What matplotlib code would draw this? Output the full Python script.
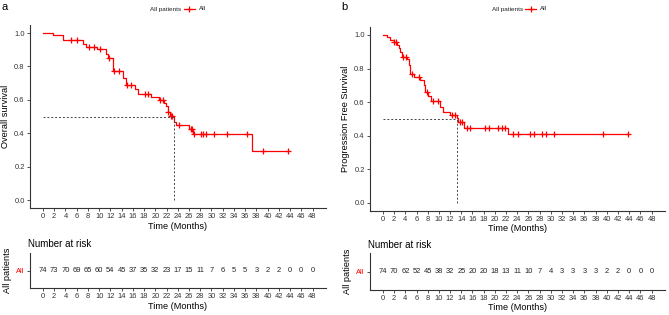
import matplotlib
matplotlib.use('Agg')
import matplotlib.pyplot as plt
from matplotlib.lines import Line2D
import numpy as np

plt.rcParams['font.family'] = ['Liberation Sans', 'DejaVu Sans']

# Kaplan-Meier steps (time in months, survival after the drop)
os_time = [1.8, 3.55, 7.1, 7.7, 9.6, 11.3, 11.5, 12.4, 14.2, 14.7, 16.3, 16.9, 19.3, 20.6,
           21.6, 21.9, 22.2, 22.6, 23.3, 23.6, 26.0, 26.8, 37.2]
os_surv = [0.986, 0.959, 0.932, 0.918, 0.904, 0.877, 0.849, 0.77, 0.73, 0.69, 0.662, 0.634,
           0.62, 0.60, 0.58, 0.565, 0.53, 0.505, 0.47, 0.45, 0.425, 0.393, 0.295]
os_cens = [5.0, 6.0, 8.2, 9.0, 10.1, 11.7, 12.7, 13.6, 15.0, 15.6, 18.1, 18.7, 20.8, 21.4,
           22.3, 22.8, 23.0, 24.3, 26.3, 26.6, 26.9, 28.1, 28.5, 29.1, 30.5, 32.8, 36.4, 39.1, 43.6]
os_median = 23.4
os_risk = [74, 73, 70, 69, 65, 60, 54, 45, 37, 35, 32, 23, 17, 15, 11, 7, 6, 5, 5, 3, 2, 2, 0, 0, 0]

pfs_time = [0.7, 1.3, 1.9, 2.5, 2.8, 3.1, 3.4, 4.3, 4.6, 4.9, 5.6, 6.7, 7.3, 7.6, 8.1, 8.6,
            10.2, 10.8, 12.0, 13.2, 13.5, 14.4, 22.4]
pfs_surv = [0.986, 0.973, 0.959, 0.94, 0.92, 0.90, 0.87, 0.855, 0.82, 0.77, 0.75, 0.733, 0.70,
            0.66, 0.634, 0.604, 0.572, 0.543, 0.523, 0.503, 0.483, 0.444, 0.41]
pfs_cens = [1.9, 2.3, 3.6, 4.1, 5.2, 6.4, 7.9, 9.0, 9.9, 12.3, 12.9, 13.8, 14.1, 15.0, 15.6,
            18.3, 18.9, 20.6, 21.2, 21.8, 23.2, 24.2, 26.3, 27.0, 28.4, 29.1, 30.6, 39.3, 43.8]
pfs_median = 13.3
pfs_risk = [74, 70, 62, 52, 45, 38, 32, 25, 20, 20, 18, 13, 11, 10, 7, 4, 3, 3, 3, 3, 2, 2, 0, 0, 0]

risk_times = list(range(0, 49, 2))

W, H = 669, 315
fig = plt.figure(figsize=(W/100, H/100), dpi=100)

def ax_at(x0, y0, x1, y1):
    return fig.add_axes([x0/W, 1-y1/H, (x1-x0)/W, (y1-y0)/H])

def style(ax):
    for s in ['top', 'right']:
        ax.spines[s].set_visible(False)
    for s in ['left', 'bottom']:
        ax.spines[s].set_color('#333333')
        ax.spines[s].set_linewidth(0.8)
    ax.tick_params(length=2, width=0.6, color='#333333', labelsize=5.4, pad=1.5, labelcolor='#333333')
    ax.set_xlim(-2.4, 50.4)
    ax.set_xticks(risk_times)

def km_panel(x0, y0, x1, y1, ry0, ry1, times, survs, cens, med, risk, ylab, letter, lx, legx):
    ax = ax_at(x0, y0, x1, y1)
    style(ax)
    t = np.array([0] + times + [cens[-1]])
    s = np.array([1.0] + survs + [survs[-1]])
    ax.step(t, s, where='post', color='red', lw=0.9)
    # survival at censor times from the step function
    idx = np.searchsorted(t, cens, side='right') - 1
    ax.plot(cens, s[idx], ls='none', marker='+', ms=4.5, mew=0.9, color='red')
    ax.plot([0, med], [0.5, 0.5], ls=(0, (2, 2)), color='#444444', lw=0.7)
    ax.plot([med, med], [0, 0.5], ls=(0, (2, 2)), color='#444444', lw=0.7)
    ax.set_ylim(-0.05, 1.05)
    ax.set_yticks(np.arange(0, 1.01, 0.2))
    ax.set_yticklabels(['%.1f' % v for v in np.arange(0, 1.01, 0.2)])
    ax.set_xlabel('Time (Months)', fontsize=6.6, labelpad=1)
    ax.set_ylabel(ylab, fontsize=6.6, labelpad=3)

    # legend row: "All patients  -+-  All"
    fig.text(legx/W, 1-9/H, 'All patients', fontsize=4.6, ha='left', va='center', color='#222222')
    fig.add_artist(Line2D([(legx+33)/W, (legx+44)/W], [1-9/H, 1-9/H], color='red', lw=0.9))
    fig.add_artist(Line2D([(legx+38.5)/W], [1-9/H], color='red', marker='+', ms=4.5, mew=0.9))
    fig.text((legx+48)/W, 1-9/H, 'All', fontsize=4.6, ha='left', va='center', color='#222222')
    fig.text(lx/W, 1-7/H, letter, fontsize=8, va='center', ha='left')

    rk = ax_at(x0, ry0, x1, ry1)
    style(rk)
    rk.set_ylim(0, 1)
    rk.set_yticks([0.5])
    rk.set_yticklabels(['All'])
    rk.get_yticklabels()[0].set_color('red')
    for tt, n in zip(risk_times, risk):
        rk.text(tt, 0.5, str(n), ha='center', va='center', fontsize=5.4, color='#222222')
    rk.set_xlabel('Time (Months)', fontsize=6.6, labelpad=1)
    rk.set_ylabel('All patients', fontsize=6.6, labelpad=3)
    rk.set_title('Number at risk', fontsize=7, loc='left', pad=4, x=-0.005)
    return ax

km_panel(29.5, 24.7, 326, 208.4, 252.7, 288.3, os_time, os_surv, os_cens, os_median,
         os_risk, 'Overall survival', 'a', 1.5, 150.5)
km_panel(369.5, 26.6, 665, 211.1, 253.3, 290, pfs_time, pfs_surv, pfs_cens, pfs_median,
         pfs_risk, 'Progression Free Survival', 'b', 341, 492)

fig.savefig('out.png', dpi=100)
